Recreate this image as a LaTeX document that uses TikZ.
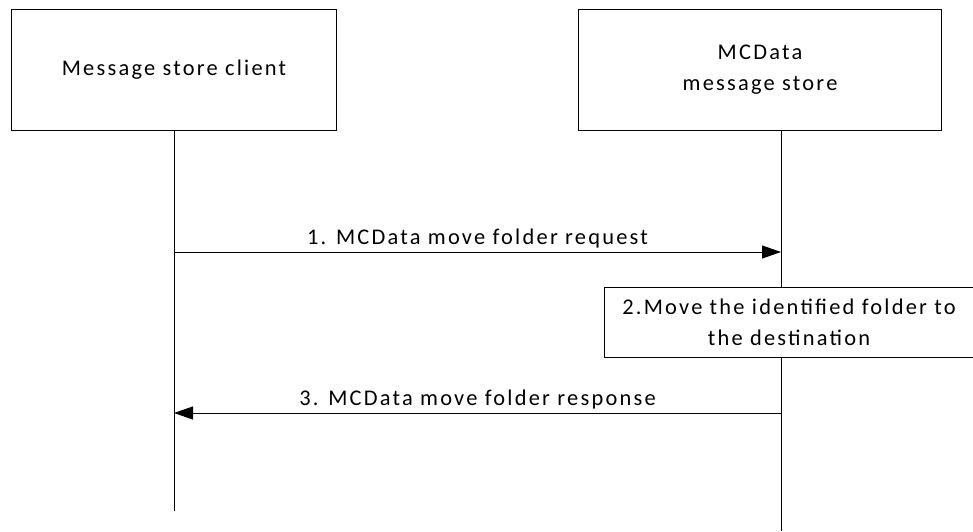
\documentclass[tikz,border=0pt]{standalone}
\usepackage{fontspec}
\setmainfont[LetterSpace=10]{Carlito}
\usetikzlibrary{positioning,arrows.meta}

\begin{document}
\begin{tikzpicture}[
  x=1pt, y=-1pt,
  font=\fontsize{22.4}{31}\selectfont,
  >={Triangle[length=19pt,width=13pt]},
  actor/.style ={draw=black, line width=1pt, fill=white, align=center,
                 minimum height=121pt, inner sep=0pt},
  act/.style   ={draw=black, line width=1pt, fill=white, align=center,
                 minimum height=70pt, inner sep=0pt},
  life/.style  ={draw=black, line width=1pt},
  msg/.style   ={->, draw=black, line width=1pt},
  lbl/.style   ={above=0pt, midway},
]
  \useasboundingbox (0,0) rectangle (973,531);

  % --- participants ---
  \node[actor, minimum width=325pt, anchor=north west] (client) at (11,9) {Message store client};
  \node[actor, minimum width=363pt, anchor=north west] (store)  at (578,9) {MCData\\message store};

  % --- lifelines ---
  \coordinate (clientend) at (174,511);
  \coordinate (storeend)  at (781,531);
  \draw[life] (client.south -| clientend) -- (clientend);
  \draw[life] (store.south -| storeend)   -- (storeend);

  % --- messages ---
  \coordinate (req1) at (174,252);
  \coordinate (req2) at (781,252);
  \draw[msg] (req1) -- (req2) node[lbl] {1. MCData move folder request};

  \node[act, minimum width=369pt, anchor=north west] (move) at (604,287) {2.Move the identified folder to\\the destination};

  \coordinate (rsp1) at (781,413);
  \coordinate (rsp2) at (174,413);
  \draw[msg] (rsp1) -- (rsp2) node[lbl] {3. MCData move folder response};
\end{tikzpicture}
\end{document}
